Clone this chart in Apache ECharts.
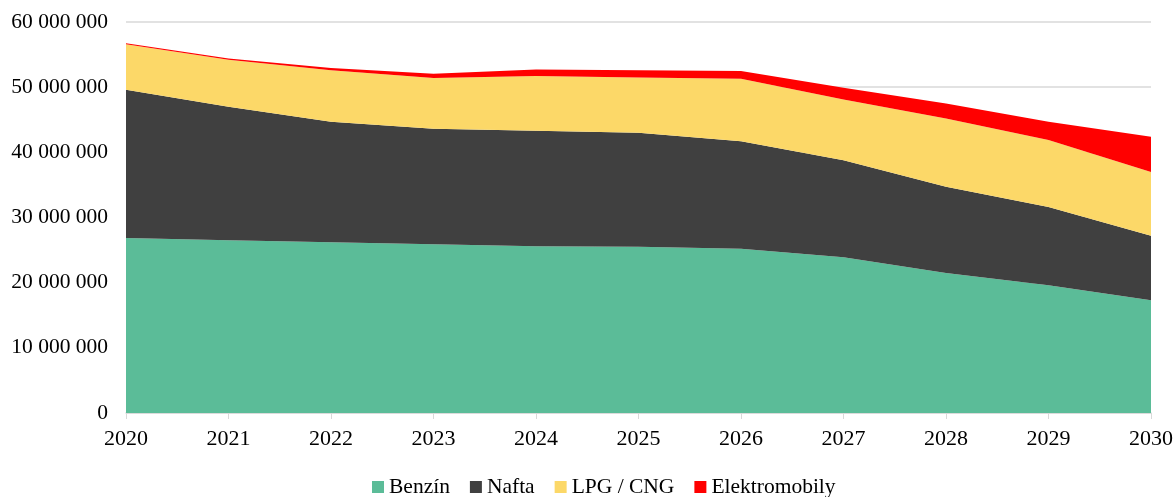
<!DOCTYPE html>
<html>
<head>
<meta charset="utf-8">
<script src="https://cdn.jsdelivr.net/npm/echarts@6/dist/echarts.min.js"></script>
<style>
  html, body { margin: 0; padding: 0; background: #fff; }
  #chart { width: 1176px; height: 497px; }
</style>
</head>
<body>
<div id="chart"></div>
<script>
// Vehicle fleet by fuel type, 2020–2030 (stacked)
const years = ['2020', '2021', '2022', '2023', '2024', '2025', '2026', '2027', '2028', '2029', '2030'];
const benzin = [26850000, 26500000, 26200000, 25900000, 25600000, 25500000, 25200000, 23900000, 21500000, 19600000, 17300000];
const nafta = [22750000, 20500000, 18500000, 17700000, 17700000, 17500000, 16500000, 14900000, 13200000, 12000000, 9900000];
const lpgCng = [7000000, 7200000, 7900000, 7800000, 8400000, 8500000, 9600000, 9300000, 10500000, 10300000, 9800000];
const elektro = [150000, 200000, 350000, 650000, 1000000, 1100000, 1200000, 1800000, 2300000, 2800000, 5400000];

const seriesNames = ['Benzín', 'Nafta', 'LPG / CNG', 'Elektromobily'];
const seriesData = [benzin, nafta, lpgCng, elektro];
const seriesColors = ['#5bbc98', '#404040', '#fcd868', '#ff0000'];

const fontFamily = '"Liberation Serif", "Times New Roman", serif';

function formatThousands(v) {
  return String(v).replace(/\B(?=(\d{3})+(?!\d))/g, ' ');
}

const chart = echarts.init(document.getElementById('chart'));
chart.setOption({
  animation: false,
  textStyle: { fontFamily: fontFamily },
  grid: { left: 126, right: 24, top: 22, bottom: 84, containLabel: false },
  legend: {
    bottom: -6,
    left: 367,
    icon: 'rect',
    itemWidth: 12,
    itemHeight: 12,
    itemGap: 20,
    textStyle: { fontFamily: fontFamily, fontSize: 21.5, color: '#000' },
    data: seriesNames
  },
  xAxis: {
    type: 'category',
    data: years,
    boundaryGap: false,
    axisLine: { lineStyle: { color: '#d9d9d9', width: 1.5 } },
    axisTick: { show: true, length: 6, lineStyle: { color: '#d9d9d9' } },
    axisLabel: { color: '#000', fontSize: 22, fontFamily: fontFamily, margin: 15 },
    splitLine: { show: false }
  },
  yAxis: {
    type: 'value',
    min: 0,
    max: 60000000,
    interval: 10000000,
    axisLine: { show: false },
    axisTick: { show: false },
    axisLabel: {
      color: '#000', fontSize: 21.5, fontFamily: fontFamily, margin: 18,
      formatter: formatThousands
    },
    splitLine: { lineStyle: { color: '#d9d9d9', width: 1.5 } }
  },
  series: seriesNames.map((name, i) => ({
    name: name,
    type: 'line',
    stack: 'total',
    data: seriesData[i],
    symbol: 'none',
    lineStyle: { width: 0 },
    itemStyle: { color: seriesColors[i] },
    areaStyle: { color: seriesColors[i], opacity: 1 }
  }))
});
</script>
</body>
</html>
